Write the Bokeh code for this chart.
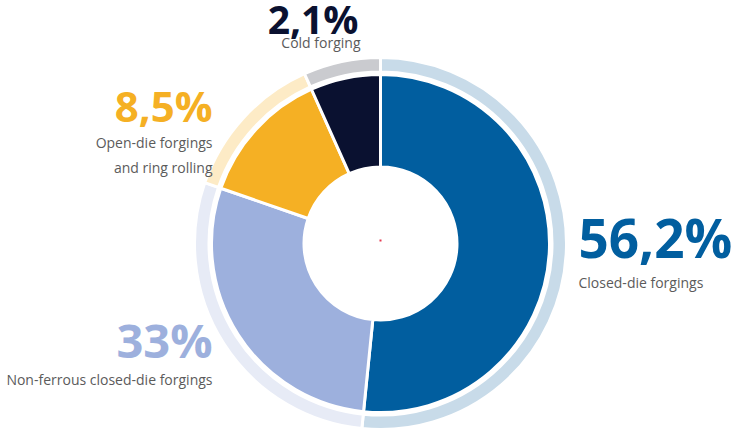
import numpy as np
from bokeh.plotting import figure
from bokeh.models import ColumnDataSource, Range1d
from bokeh.core.properties import value
from bokeh.embed import file_html
from bokeh.resources import INLINE

# ---- data ----
categories = ["Closed-die forgings", "Non-ferrous closed-die forgings",
              "Open-die forgings and ring rolling", "Cold forging"]
share_labels = ["56,2%", "33%", "8,5%", "2,1%"]
# slice sizes as drawn in the picture (share of the circle)
slice_shares = [51.6, 28.7, 13.0, 6.7]
main_colors = ["#015e9f", "#9db0dd", "#f5b024", "#0a1130"]
ring_colors = ["#c8dbe9", "#e7ebf6", "#fdebc6", "#cacbcf"]

shares = np.array(slice_shares, dtype=float)
frac = shares / shares.sum()
cum = np.concatenate([[0.0], np.cumsum(frac)])
start = np.pi / 2 - cum[:-1] * 2 * np.pi
end = np.pi / 2 - cum[1:] * 2 * np.pi

src = ColumnDataSource(dict(cat=categories, start=start, end=end,
                            main=main_colors, ring=ring_colors))

p = figure(width=740, height=430, x_range=Range1d(-380, 360), y_range=Range1d(-187, 243),
           output_backend="svg", toolbar_location=None, min_border=0,
           x_axis_type=None, y_axis_type=None)
p.grid.visible = False
p.outline_line_color = None
p.background_fill_color = "white"

# outer light ring
p.annular_wedge(x=0, y=0, inner_radius=171.5, outer_radius=186,
                start_angle="start", end_angle="end", direction="clock",
                fill_color="ring", line_color="white", line_width=3, source=src)
# main donut
p.annular_wedge(x=0, y=0, inner_radius=76.5, outer_radius=169,
                start_angle="start", end_angle="end", direction="clock",
                fill_color="main", line_color="white", line_width=3, source=src)

# tiny centre mark
p.scatter(x=[0], y=[3], marker="square", size=2, fill_color="#e53950", line_color=None)

font = value("Open Sans")
gray = "#5b5b5b"

def label(x, y, t, size, color, align, bold=False):
    p.text(x=[x], y=[y], text=[t], text_font=font, text_font_size=size,
           text_font_style="bold" if bold else "normal", text_color=color,
           text_align=align, text_baseline="alphabetic")

# Closed-die
label(198, 6, share_labels[0], "53px", main_colors[0], "left", True)
label(198, -38.5, categories[0], "14px", gray, "left")
# Non-ferrous
label(-168, -96, share_labels[1], "47px", main_colors[1], "right", True)
label(-168, -135.5, categories[1], "14px", gray, "right")
# Open-die
label(-168, 138, share_labels[2], "42px", main_colors[2], "right", True)
label(-168, 101.5, "Open-die forgings", "14px", gray, "right")
label(-168, 76.5, "and ring rolling", "14px", gray, "right")
# Cold forging
label(-22, 225, share_labels[3], "39px", main_colors[3], "right", True)
label(-20, 201.5, categories[3], "14px", gray, "right")

open("out.html", "w").write(file_html(p, INLINE))
